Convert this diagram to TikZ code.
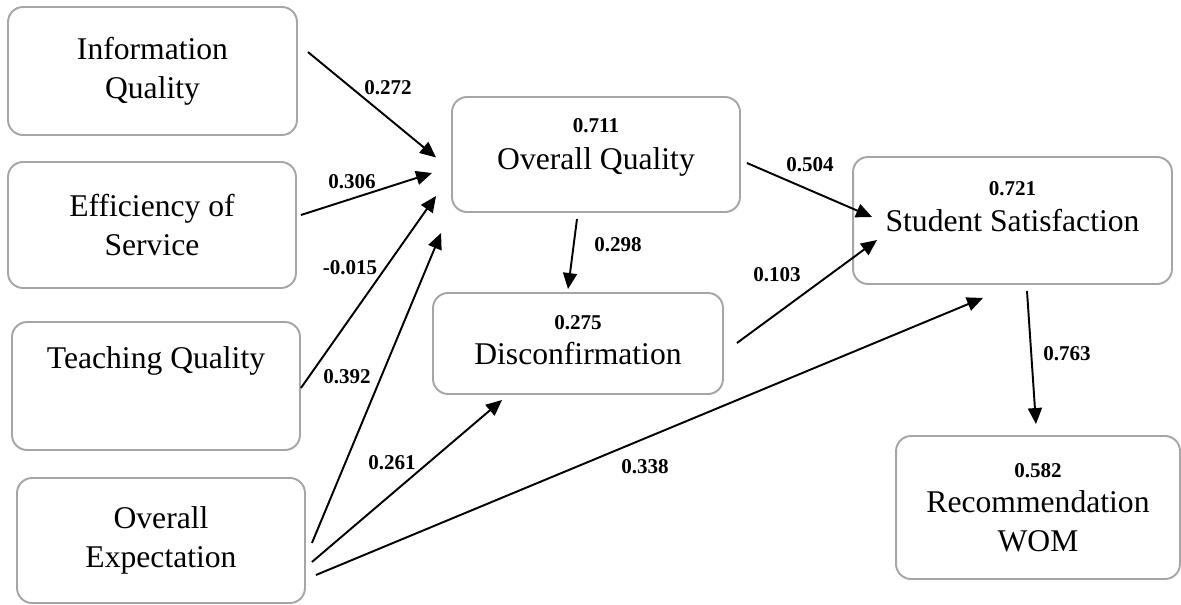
\documentclass[tikz,border=0pt]{standalone}
\usepackage{fontspec}
\setmainfont{Liberation Serif}
\usetikzlibrary{arrows.meta,calc}

\definecolor{boxgray}{HTML}{A6A6A6}

\tikzset{
  factor/.style={draw=boxgray, line width=1.1pt, rounded corners=0.3cm, align=center,
    inner sep=0pt, font=\fontsize{18}{22}\selectfont},
  effect/.style={-{Triangle[length=3.2mm,width=2.8mm]}, line width=1.1pt},
  coef/.style={font=\fontsize{12}{14}\selectfont\bfseries, inner sep=1pt}
}
\newcommand{\rsq}[1]{{\fontsize{12}{14}\selectfont\bfseries #1}}

\begin{document}
\begin{tikzpicture}[x=0.02cm,y=-0.02cm]
\useasboundingbox (0,0) rectangle (1181,605);

% exogenous constructs
\node[factor, minimum width=5.78cm, minimum height=2.56cm] (iq) at (152.5,71) {Information\\Quality};
\node[factor, minimum width=5.76cm, minimum height=2.52cm] (es) at (152,225) {Efficiency of\\Service};
\node[factor, minimum width=5.76cm, minimum height=2.56cm] (tq) at (156,386) {Teaching Quality\\[10pt]\mbox{}};
\node[factor, minimum width=5.76cm, minimum height=2.5cm] (oe) at (161,540.5) {Overall\\Expectation};

% endogenous constructs
\node[factor, minimum width=5.76cm, minimum height=2.3cm] (oq) at (596,154.5) {\rsq{0.711}\\[-1pt]Overall Quality\\[-10pt]\mbox{}};
\node[factor, minimum width=5.8cm, minimum height=2.02cm] (dc) at (578,343.5) {\rsq{0.275}\\[-2pt]Disconfirmation\\[-18pt]\mbox{}};
\node[factor, minimum width=6.38cm, minimum height=2.54cm] (ss) at (1012.5,220.5) {\rsq{0.721}\\[-2pt]Student Satisfaction\\[-6pt]\mbox{}};
\node[factor, minimum width=5.68cm, minimum height=2.86cm] (rw) at (1038,507.5) {\rsq{0.582}\\[-2pt]Recommendation\\WOM};

% paths
\draw[effect] ($(iq.east)+(10,-19)$) -- ($(oq.west)+(-15,3)$);
\draw[effect] ($(es.east)+(4,-10)$) -- ($(oq.west)+(-19,18.5)$);
\draw[effect] ($(tq.east)+(0,2)$) -- ($(oq.south west)+(-15,-17)$);
\draw[effect] ($(oe.east)+(6,2.5)$) -- ($(oq.south west)+(-10,20)$);
\draw[effect] ($(oe.east)+(6,21.5)$) -- ($(dc.south west)+(70,5)$);
\draw[effect] ($(oe.east)+(10,34.5)$) -- ($(ss.south)+(-29.5,13)$);
\draw[effect] ($(oq.south)+(-19,6)$) -- ($(dc.north)+(-10,-3)$);
\draw[effect] ($(oq.east)+(6,8.5)$) -- ($(ss.west)+(20,-3.5)$);
\draw[effect] ($(dc.east)+(13,-0.5)$) -- ($(ss.west)+(25,19.5)$);
\draw[effect] ($(ss.south)+(14.5,6)$) -- ($(rw.north)+(-2,-11)$);

% coefficients
\node[coef] (c1) at (388,88) {0.272};
\node[coef] (c2) at (352,182) {0.306};
\node[coef] (c3) at (350,268) {-0.015};
\node[coef] (c4) at (347,377) {0.392};
\node[coef] (c5) at (392,463) {0.261};
\node[coef] (c6) at (645,467) {0.338};
\node[coef] (c7) at (618,245) {0.298};
\node[coef] (c8) at (810,165) {0.504};
\node[coef] (c9) at (777,275) {0.103};
\node[coef] (c10) at (1067,354) {0.763};

\end{tikzpicture}
\end{document}
